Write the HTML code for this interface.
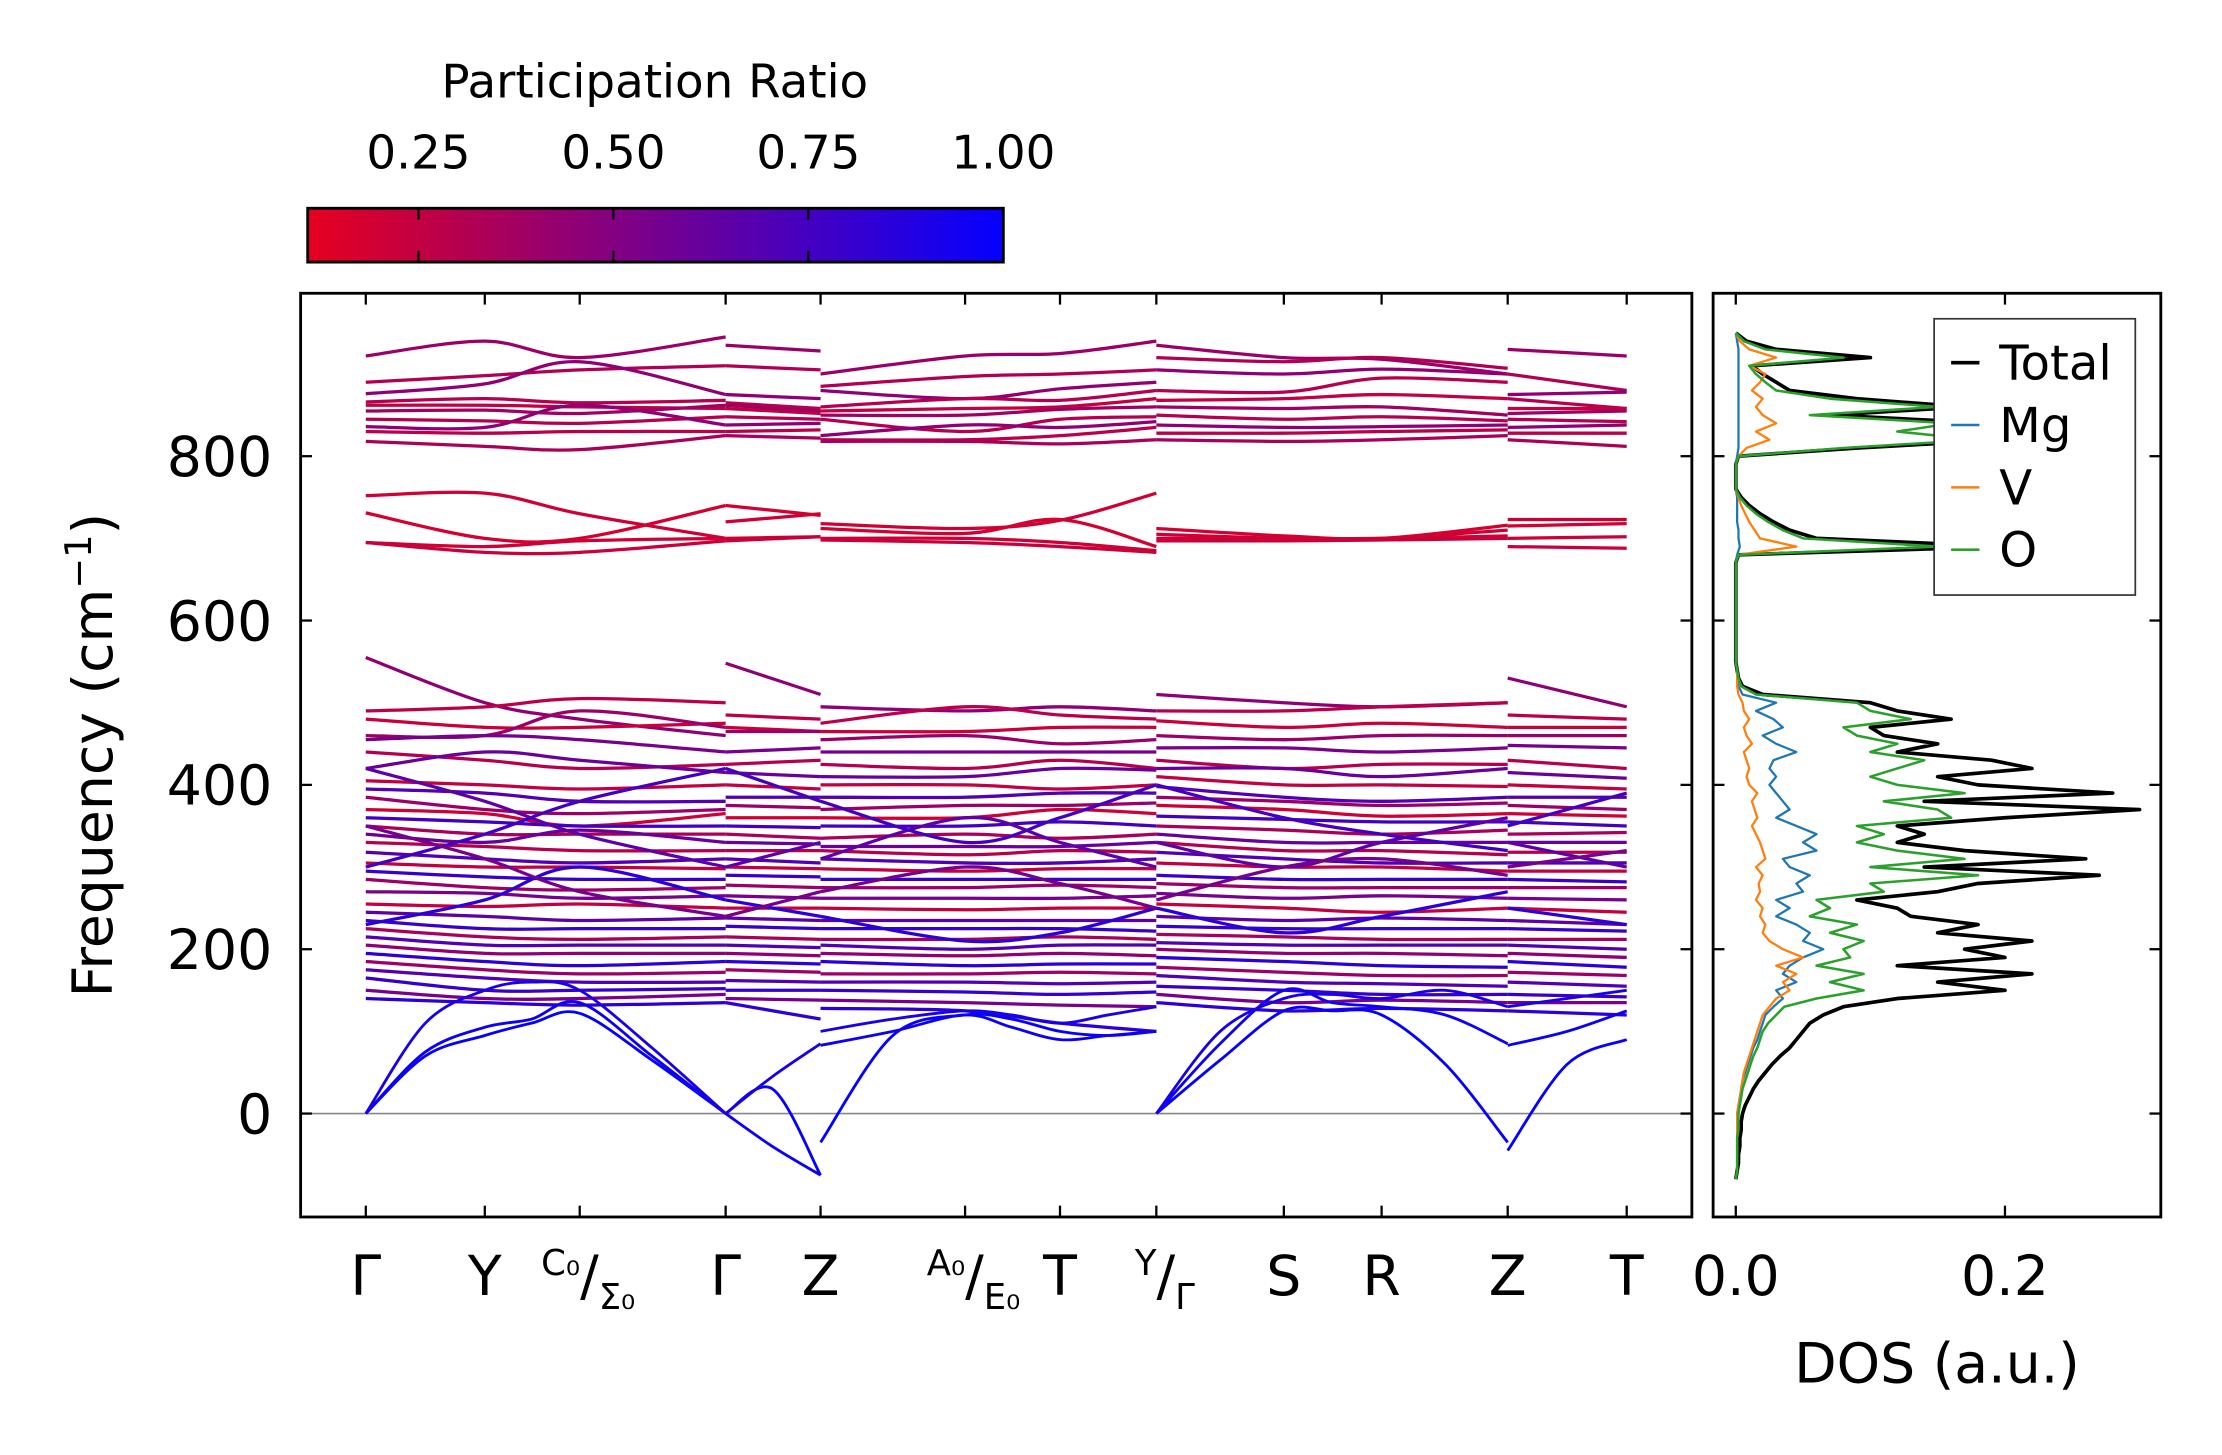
<!DOCTYPE html>
<html><head><meta charset="utf-8"><title>Phonon bands and DOS</title>
<style>
html,body{margin:0;padding:0;background:#fff;}
svg{display:block;font-family:"DejaVu Sans","Liberation Sans",sans-serif;}
</style></head>
<body>
<svg id="fig" width="2222" height="1455" viewBox="0 0 1568 1027" xmlns="http://www.w3.org/2000/svg">
<defs>
<linearGradient id="cbgrad" x1="0" x2="1" y1="0" y2="0">
<stop offset="0" stop-color="rgb(230,0,30)"/>
<stop offset="1" stop-color="rgb(5,0,255)"/>
</linearGradient>
<clipPath id="mainclip"><rect x="212" y="207" width="982" height="652"/></clipPath>
<clipPath id="dosclip"><rect x="1209" y="207" width="316" height="652"/></clipPath>
</defs>
<rect width="1568" height="1027" fill="#fff"/>
<g id="colorbar">
<text x="462" y="69" font-size="33" text-anchor="middle">Participation Ratio</text>
<rect x="217" y="147" width="491" height="38" fill="url(#cbgrad)" stroke="#000" stroke-width="2"/>
</g>
<g id="bands" clip-path="url(#mainclip)"></g>
<g id="dos" clip-path="url(#dosclip)"></g>
<g id="axes"></g>
</svg>
<script>
// ---- colorbar data ----
const cbTicks = [0.25, 0.50, 0.75, 1.00];
const cbMin = 0.108, cbMax = 1.0;

// ---- band structure data ----
const kLabels = ["Γ","Y","C0/Σ0","Γ","Z","A0/E0","T","Y/Γ","S","R","Z","T"];
const kNodes = [0, 84, 151, 254, 321, 423, 490, 558, 648, 717, 806, 890];
const freqTicks = [0, 200, 400, 600, 800];
// node-valued bands: [Γ,Y,C0,Γ | Γ,Z | Z,A0,T,Y | Γ,S,R,Z | Z,T]
const opticBands = [
[922,940,920,945, 935,928, 900,922,925,940, 935,920,918,900, 930,922],
[890,898,905,910, 910,905, 885,897,900,905, 920,915,920,907, 900,880],
[876,888,915,875, 875,870, 880,870,882,890, 905,900,906,900, 875,878],
[866,870,865,868, 865,858, 860,870,868,880, 880,878,895,890, 870,858],
[862,862,860,858, 858,852, 855,858,860,870, 868,870,875,870, 858,858],
[855,856,852,862, 862,855, 850,850,857,860, 860,858,860,850, 852,855],
[845,843,840,848, 848,845, 845,830,845,848, 850,845,848,843, 845,842],
[836,835,862,838, 838,840, 825,838,835,842, 838,835,836,838, 835,838],
[830,828,830,830, 830,832, 820,820,825,835, 828,828,830,832, 828,828],
[818,812,808,825, 825,822, 818,818,815,820, 820,818,820,825, 820,812],
[752,755,730,700, 720,730, 718,712,722,755, 700,700,700,710, 723,723],
[731,700,700,740, 740,728, 712,706,723,690, 712,703,700,716, 715,718],
[695,690,697,700, 700,702, 700,700,695,685, 705,700,700,703, 700,702],
[695,683,683,697, 697,702, 698,695,690,683, 697,697,698,700, 690,688],
[555,500,480,460, 548,510, 495,490,495,490, 510,500,495,500, 530,495],
[490,495,505,500, 485,480, 475,495,485,480, 490,490,495,500, 485,480],
[480,470,470,475, 470,465, 465,465,470,470, 478,470,475,470, 470,470],
[460,460,490,470, 465,465, 455,460,450,455, 460,455,460,460, 460,460],
[455,460,455,440, 440,445, 440,440,440,440, 445,445,440,445, 448,445],
[440,430,420,425, 425,430, 425,420,430,420, 430,420,425,425, 430,420],
[420,440,430,415, 415,410, 410,410,420,418, 420,420,410,420, 415,408],
[405,400,395,400, 400,395, 400,400,395,400, 410,400,400,398, 400,395],
[395,390,380,380, 385,385, 385,385,390,390, 398,385,380,385, 385,385],
[385,370,365,370, 375,372, 370,375,375,378, 385,380,375,378, 375,370],
[370,365,350,365, 360,360, 360,360,370,365, 375,370,362,365, 365,362],
[360,355,350,350, 350,348, 350,350,355,350, 362,358,355,355, 355,350],
[350,340,340,340, 340,335, 335,340,335,340, 350,345,340,345, 340,342],
[340,330,345,330, 330,328, 325,325,325,330, 340,330,330,330, 330,330],
[330,325,320,320, 320,320, 320,315,320,318, 330,320,320,315, 318,318],
[318,310,305,310, 310,305, 310,305,305,310, 318,310,305,305, 305,305],
[305,300,300,298, 300,298, 298,295,298,298, 305,300,300,295, 295,295],
[295,288,285,285, 290,288, 285,285,285,285, 290,285,285,285, 285,282],
[285,275,272,275, 278,275, 275,275,278,275, 280,275,275,275, 275,275],
[270,268,262,265, 265,262, 262,262,262,265, 268,262,265,262, 262,260],
[255,252,255,250, 250,250, 250,248,250,250, 255,250,245,250, 250,245],
[245,240,235,238, 238,235, 235,235,235,235, 240,235,238,235, 235,230],
[235,225,225,225, 228,225, 225,225,225,222, 228,225,225,225, 225,222],
[225,215,212,215, 215,212, 212,212,215,212, 218,215,212,212, 212,212],
[215,205,205,205, 205,202, 205,200,205,205, 208,205,205,205, 205,200],
[205,195,195,195, 195,192, 195,192,195,192, 200,195,195,192, 195,190],
[195,185,180,185, 185,182, 185,180,182,182, 190,185,180,178, 185,178],
[185,175,170,172, 175,172, 170,170,172,170, 178,172,168,168, 172,168],
[175,165,160,160, 162,160, 160,160,158,160, 168,160,158,155, 160,155],
[165,150,150,152, 150,150, 150,148,145,148, 155,150,145,145, 145,142],
[150,140,140,145, 140,138, 138,135,132,130, 145,135,138,135, 135,135],
[140,135,132,135, 135,115, 128,125,110,100, 135,125,128,125, 125,120],
[420,380,340,300, 300,330, 310,360,330,300, 330,300,330,360, 330,300],
[300,340,380,420, 420,380, 380,330,360,400, 400,360,340,320, 350,390],
[230,260,300,260, 260,240, 240,210,220,250, 250,220,240,270, 250,230],
[350,310,270,240, 240,270, 270,300,280,250, 260,300,310,290, 300,320]
];
const opticPR = [0.4,0.32,0.45,0.3,0.25,0.38,0.3,0.45,0.28,0.35,
0.2,0.18,0.2,0.22,
0.45,0.28,0.22,0.4,0.55,0.3,0.6,0.25,0.7,0.4,0.2,0.75,0.35,0.6,0.3,0.7,0.25,0.8,0.4,0.55,0.25,0.65,0.8,0.35,0.7,0.45,0.85,0.4,0.7,0.8,0.55,0.85,0.65,0.75,0.85,0.55];
// acoustic bands, denser sampling at acousticK
const acousticK = [0,42,84,117,151,202,254, 254,287,321, 321,372,423,456,490,524,558, 558,603,648,682,717,762,806, 806,848,890];
const acousticBands = [
[0,70,95,110,122,65,0, 0,30,-75, -35,95,120,115,100,95,100, 0,65,125,125,120,60,-35, -45,60,90],
[0,75,105,115,135,70,0, 0,-40,-75, 83,100,120,105,90,95,100, 0,85,150,135,130,120,85, 83,100,125],
[0,110,150,160,150,80,0, 0,45,85, 100,115,125,120,110,120,130, 0,100,140,145,140,150,130, 130,140,150]
];
const acousticPR = [1.0, 0.97, 0.92];

// ---- DOS data (frequency grid -80..950 step 10) ----
const dosFreq = [];
for (let f = -80; f <= 950; f += 10) dosFreq.push(f);
const dosTotal = [0,0.001,0.002,0.002,0.003,0.003,0.004,0.004,0.005,0.007,0.010,0.013,0.017,0.022,0.027,0.033,0.040,0.045,0.050,0.055,0.065,0.080,0.120,0.200,0.150,0.220,0.120,0.200,0.170,0.220,0.150,0.180,0.130,0.120,0.090,0.150,0.180,0.270,0.140,0.260,0.170,0.120,0.140,0.120,0.200,0.300,0.140,0.280,0.180,0.150,0.220,0.190,0.120,0.150,0.110,0.100,0.160,0.120,0.100,0.020,0.005,0.002,0.001,0,0,0,0,0,0,0,0,0,0,0,0,0,0.002,0.200,0.060,0.040,0.028,0.018,0.010,0.004,0,0,0,0,0.002,0.090,0.200,0.150,0.190,0.070,0.170,0.090,0.040,0.030,0.020,0.012,0.100,0.030,0.008,0];
const dosO = [0,0.001,0.001,0.001,0.001,0.001,0.002,0.002,0.002,0.003,0.004,0.005,0.007,0.009,0.011,0.013,0.016,0.018,0.020,0.024,0.030,0.036,0.060,0.095,0.070,0.095,0.060,0.085,0.080,0.095,0.070,0.090,0.055,0.070,0.060,0.110,0.100,0.180,0.100,0.170,0.120,0.090,0.110,0.090,0.160,0.150,0.110,0.170,0.120,0.100,0.120,0.140,0.100,0.120,0.090,0.080,0.130,0.100,0.090,0.015,0.004,0.002,0.001,0,0,0,0,0,0,0,0,0,0,0,0,0,0.002,0.150,0.050,0.035,0.024,0.015,0.008,0.003,0,0,0,0,0.002,0.080,0.180,0.120,0.160,0.055,0.150,0.070,0.030,0.022,0.015,0.010,0.080,0.022,0.006,0];
const dosMg = [0,0.001,0.001,0.001,0.001,0.001,0.001,0.001,0.001,0.002,0.003,0.004,0.005,0.007,0.009,0.011,0.013,0.016,0.018,0.020,0.022,0.028,0.035,0.030,0.045,0.035,0.040,0.050,0.065,0.050,0.055,0.045,0.030,0.040,0.030,0.050,0.045,0.055,0.040,0.035,0.060,0.050,0.060,0.045,0.030,0.040,0.035,0.030,0.025,0.030,0.025,0.028,0.045,0.030,0.020,0.035,0.028,0.015,0.030,0.005,0.002,0.001,0.001,0,0,0,0,0,0,0,0,0,0,0,0,0,0.001,0.003,0.002,0.002,0.001,0.001,0.001,0.001,0,0,0,0,0.001,0.002,0.002,0.002,0.002,0.002,0.002,0.002,0.002,0.002,0.002,0.002,0.002,0.002,0.001,0];
const dosV = [0,0.001,0.001,0.001,0.001,0.001,0.001,0.001,0.001,0.002,0.003,0.004,0.005,0.006,0.008,0.010,0.012,0.014,0.016,0.018,0.020,0.025,0.030,0.040,0.035,0.045,0.030,0.050,0.035,0.025,0.020,0.022,0.018,0.020,0.015,0.018,0.017,0.020,0.015,0.022,0.020,0.018,0.015,0.012,0.016,0.014,0.012,0.016,0.010,0.008,0.010,0.008,0.006,0.012,0.008,0.006,0.010,0.006,0.005,0.002,0.001,0.001,0.001,0,0,0,0,0,0,0,0,0,0,0,0,0,0.002,0.045,0.018,0.014,0.010,0.007,0.004,0.002,0,0,0,0,0.002,0.008,0.025,0.015,0.030,0.020,0.015,0.020,0.012,0.018,0.022,0.010,0.030,0.010,0.003,0];
const dosTicks = [0.0, 0.2];
const legendLabels = ["Total","Mg","V","O"];

// ---- scales ----
const NS = "http://www.w3.org/2000/svg";
const xK = k => 258 + k * (1148 - 258) / 890;
const yF = f => 786 - f * 0.58;
const xD = d => 1225 + d * 950;
const cbX = v => 217 + (v - cbMin) / (cbMax - cbMin) * 491;
function prColor(p){
  const t = Math.max(0, Math.min(1, (p - cbMin) / (cbMax - cbMin)));
  const r = Math.round(230 + (5 - 230) * t), b = Math.round(30 + (255 - 30) * t);
  return `rgb(${r},0,${b})`;
}
function el(tag, attrs, parent){
  const e = document.createElementNS(NS, tag);
  for (const k in attrs) e.setAttribute(k, attrs[k]);
  parent.appendChild(e);
  return e;
}
function crPath(pts){
  let d = `M${pts[0][0].toFixed(2)},${pts[0][1].toFixed(2)}`;
  for (let i = 0; i < pts.length - 1; i++){
    const p0 = pts[Math.max(0,i-1)], p1 = pts[i], p2 = pts[i+1], p3 = pts[Math.min(pts.length-1,i+2)];
    const c1x = p1[0] + (p2[0]-p0[0])/6, c1y = p1[1] + (p2[1]-p0[1])/6;
    const c2x = p2[0] - (p3[0]-p1[0])/6, c2y = p2[1] - (p3[1]-p1[1])/6;
    d += ` C${c1x.toFixed(2)},${c1y.toFixed(2)} ${c2x.toFixed(2)},${c2y.toFixed(2)} ${p2[0].toFixed(2)},${p2[1].toFixed(2)}`;
  }
  return d;
}
const cbG = document.getElementById('colorbar');
const bandsG = document.getElementById('bands');
const dosG = document.getElementById('dos');
const axG = document.getElementById('axes');

// colorbar ticks
cbTicks.forEach(v => {
  const x = cbX(v);
  if (v < cbMax) {
    const t1 = el('line', {x1:x, x2:x, y1:147, y2:155, stroke:'#000', 'stroke-width':1.6}, cbG);
    
    
    const t2 = el('line', {x1:x, x2:x, y1:177, y2:185, stroke:'#000', 'stroke-width':1.6}, cbG);
    
    
  }
  const tx = el('text', {x:x, y:119, 'font-size':33, 'text-anchor':'middle'}, cbG);
  tx.textContent = v.toFixed(2);
  
  
});

const segNodeIdx = [[0,1,2,3],[3,4],[4,5,6,7],[7,8,9,10],[10,11]];
const zl = el('line', {x1:212, x2:1194, y1:yF(0), y2:yF(0), stroke:'#888', 'stroke-width':1.2}, bandsG);



opticBands.forEach((band, bi) => {
  let off = 0;
  segNodeIdx.forEach(seg => {
    const pts = seg.map((ni, j) => [xK(kNodes[ni]), yF(band[off + j])]);
    off += seg.length;
    const p = el('path', {d:crPath(pts), fill:'none', stroke:prColor(opticPR[bi]), 'stroke-width':2.3}, bandsG);
    
    
  });
});
const acSegLens = [7,3,7,7,3];
acousticBands.forEach((band, bi) => {
  let off = 0;
  acSegLens.forEach(n => {
    const pts = [];
    for (let j = 0; j < n; j++) pts.push([xK(acousticK[off+j]), yF(band[off+j])]);
    off += n;
    const p = el('path', {d:crPath(pts), fill:'none', stroke:prColor(acousticPR[bi]), 'stroke-width':2.0}, bandsG);
    
    
  });
});

// DOS curves
const dosSeries = [[dosTotal,'#000',2.6,'dos-total'],[dosMg,'#1f77b4',1.6,'dos-mg'],[dosV,'#ff7f0e',1.6,'dos-v'],[dosO,'#2ca02c',1.8,'dos-o']];
dosSeries.forEach(s => {
  const [vals, col, w, name] = s;
  const pts = vals.map((v, j) => `${xD(v).toFixed(2)},${yF(dosFreq[j]).toFixed(2)}`).join(' ');
  const pl = el('polyline', {points:pts, fill:'none', stroke:col, 'stroke-width':w, 'stroke-linejoin':'round'}, dosG);
  
  
});

// frames
const mainFrame = el('rect', {x:212, y:207, width:982, height:652, fill:'none', stroke:'#000', 'stroke-width':2}, axG);


const dosFrame = el('rect', {x:1209, y:207, width:316, height:652, fill:'none', stroke:'#000', 'stroke-width':2}, axG);



// y ticks
freqTicks.forEach(f => {
  const y = yF(f);
  [[212,220],[1194,1186],[1209,1217],[1525,1517]].forEach(([a,b]) => {
    const t = el('line', {x1:a, x2:b, y1:y, y2:y, stroke:'#000', 'stroke-width':1.6}, axG);
    
    
  });
  const tl = el('text', {x:192, y:y+14, 'font-size':39, 'text-anchor':'end'}, axG);
  tl.textContent = String(f);
  
  
});
// k ticks and labels
kNodes.forEach((k, i) => {
  const x = xK(k);
  [[859,851],[207,215]].forEach(([a,b]) => {
    const t = el('line', {x1:x, x2:x, y1:a, y2:b, stroke:'#000', 'stroke-width':1.6}, axG);
    
    
  });
  const lab = kLabels[i];
  const tx = el('text', {x:x, y:914, 'font-size':39, 'text-anchor':'middle'}, axG);
  
  
  if (lab.includes('/')) {
    const [a, b] = lab.split('/');
    const t1 = document.createElementNS(NS, 'tspan');
    t1.setAttribute('font-size', '25'); t1.setAttribute('dy', '-14');
    t1.textContent = a.length > 1 ? a[0] + '\u2080' : a;
    tx.appendChild(t1);
    const t2 = document.createElementNS(NS, 'tspan');
    t2.setAttribute('dy', '14');
    t2.textContent = '/';
    tx.appendChild(t2);
    const t3 = document.createElementNS(NS, 'tspan');
    t3.setAttribute('font-size', '25'); t3.setAttribute('dy', '10');
    t3.textContent = b.length > 1 ? b[0] + '\u2080' : b;
    tx.appendChild(t3);
    tx.setAttribute('x', x + 6);
  } else {
    tx.textContent = lab;
  }
});
// DOS x ticks
dosTicks.forEach(v => {
  const x = xD(v);
  [[859,851],[207,215]].forEach(([a,b]) => {
    const t = el('line', {x1:x, x2:x, y1:a, y2:b, stroke:'#000', 'stroke-width':1.6}, axG);
    
    
  });
  const tl = el('text', {x:x, y:914, 'font-size':39, 'text-anchor':'middle'}, axG);
  tl.textContent = v.toFixed(1);
  
  
});
// axis titles
const yt = el('text', {x:0, y:0, 'font-size':39, 'text-anchor':'middle', transform:'translate(79,533) rotate(-90)'}, axG);


yt.innerHTML = 'Frequency (cm<tspan font-size="26" dy="-15">\u22121</tspan><tspan dy="15">)</tspan>';
const xt = el('text', {x:1367, y:976, 'font-size':39, 'text-anchor':'middle'}, axG);
xt.textContent = 'DOS (a.u.)';



// legend
const lg = el('g', {}, axG);


const lbox = el('rect', {x:1365, y:225, width:142, height:195, fill:'#fff', stroke:'#333', 'stroke-width':1.2}, lg);


legendLabels.forEach((name, i) => {
  const y = 256 + i * 44;
  const ln = el('line', {x1:1377, x2:1397, y1:y, y2:y, stroke:dosSeries[i][1], 'stroke-width':i === 0 ? 2.6 : 1.8}, lg);
  
  
  const t = el('text', {x:1411, y:y+12, 'font-size':34}, lg);
  t.textContent = name;
  
  
});
</script>
</body></html>
